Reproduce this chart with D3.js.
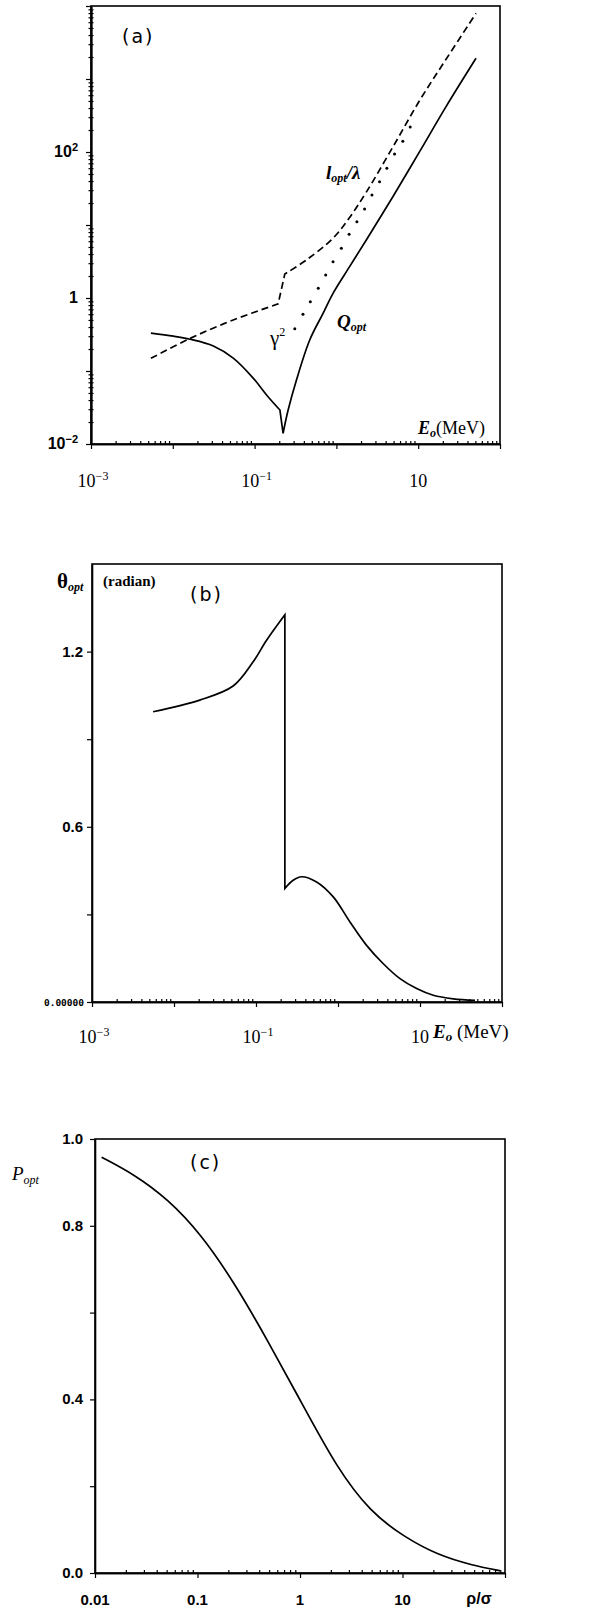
<!DOCTYPE html>
<html>
<head>
<meta charset="utf-8">
<script src="https://cdn.jsdelivr.net/npm/d3@7"></script>
<style>
  body { margin: 0; background: #fff; }
  svg { display: block; }
</style>
</head>
<body>
<div id="chart"></div>
<script>
// ---- panel (a): optimal quantities vs electron energy E_o (MeV)
var qEnergy = [0.0054, 0.0102, 0.0163, 0.0313, 0.0548, 0.096, 0.140, 0.204, 0.223, 0.257, 0.325, 0.472, 0.687, 0.91, 1.45, 2.32, 4.90, 10.4, 21.9, 50.9];
var qOpt    = [0.33, 0.30, 0.272, 0.22, 0.150, 0.080, 0.047, 0.0292, 0.014, 0.0292, 0.0754, 0.266, 0.617, 1.16, 2.69, 6.24, 24.4, 101, 418, 1920];
var lEnergy = [0.0054, 0.0163, 0.0548, 0.194, 0.234, 0.43, 0.91, 1.45, 2.32, 4.90, 10.4, 21.9, 50.9];
var lOpt    = [0.149, 0.28, 0.50, 0.83, 2.13, 3.32, 6.6, 12.7, 28.2, 117, 507, 1862, 7940];
var gEnergy = [0.31, 0.39, 0.48, 0.60, 0.74, 0.91, 1.15, 1.43, 1.78, 2.21, 2.72, 3.37, 4.14, 5.14, 6.49, 7.98];
var gamma2  = [0.38, 0.60, 0.89, 1.36, 2.07, 3.14, 4.80, 7.46, 11.1, 16.6, 25.8, 39.2, 59.8, 94.0, 140, 220];

// ---- panel (b): optimal angle (radian)
var bEnergy = [0.00556, 0.0206, 0.0526, 0.0923, 0.134, 0.225, 0.225, 0.284, 0.359, 0.548, 0.875, 1.40, 2.23, 3.57, 5.70, 9.1, 14.5, 25.5, 46.9];
var bTheta  = [0.994, 1.034, 1.082, 1.165, 1.238, 1.326, 0.389, 0.417, 0.429, 0.411, 0.36, 0.274, 0.194, 0.131, 0.080, 0.046, 0.023, 0.011, 0.006];

// ---- panel (c): P_opt vs rho/sigma
var cRatio = [0.0116, 0.0239, 0.0512, 0.109, 0.233, 0.499, 1.07, 2.28, 4.86, 10.4, 22.2, 47.4, 90.4];
var cPopt  = [0.958, 0.919, 0.862, 0.780, 0.666, 0.530, 0.386, 0.243, 0.140, 0.083, 0.041, 0.018, 0.005];

// tick labels
var aXTicks = [1e-3, 1e-1, 10];
var aXExp   = ["−3", "−1", null];
var aYTicks = [1e-2, 1, 1e2];
var aYExp   = ["−2", null, "2"];
var bYTicks = [0.6, 1.2];
var cXTicks = [0.01, 0.1, 1, 10];
var cYTicks = [0, 0.4, 0.8, 1.0];

var SERIF = "'Liberation Serif', 'DejaVu Serif', serif";
var SANS = "'Liberation Sans', Arial, sans-serif";

var svg = d3.select("#chart").append("svg")
    .attr("width", 598)
    .attr("height", 1612);

function decades(lo, hi) {
    var out = [];
    for (var d = lo; d <= hi; d++) out.push(Math.pow(10, d));
    return out;
}
function minors(lo, hi) {
    var out = [];
    for (var d = lo; d < hi; d++)
        for (var k = 2; k < 10; k++) out.push(k * Math.pow(10, d));
    return out;
}

function frame(x, y) {
    var xr = x.range(), yr = y.range();
    svg.append("rect")
        .attr("x", xr[0]).attr("y", yr[1])
        .attr("width", xr[1] - xr[0]).attr("height", yr[0] - yr[1])
        .attr("fill", "none").attr("stroke", "#000").attr("stroke-width", 1.6);
}

function axis(gen, tx, ty) {
    var g = svg.append("g")
        .attr("transform", "translate(" + tx + "," + ty + ")")
        .call(gen);
    g.selectAll("path").attr("stroke", "#000").attr("stroke-width", 1.6);
    g.selectAll("line").attr("stroke", "#000").attr("stroke-width", 1.2);
    g.selectAll("text").remove();
    return g;
}

// text made of pieces (for sub/superscripts)
function rich(x, y, parts, anchor) {
    var t = svg.append("text")
        .attr("x", x).attr("y", y)
        .attr("text-anchor", anchor || "start")
        .attr("fill", "#000");
    parts.forEach(function (p) {
        var s = t.append("tspan").text(p.t)
            .attr("font-family", p.f || SERIF)
            .attr("font-size", p.s)
            .attr("font-weight", p.w || "normal")
            .attr("font-style", p.i ? "italic" : "normal");
        if (p.b) s.attr("baseline-shift", p.b);
        if (p.ls) s.attr("letter-spacing", p.ls);
    });
    return t;
}

// one continuous path from several smooth pieces joined by straight segments
function piecewise(line, pts, cuts) {
    var pieces = [], start = 0;
    cuts.forEach(function (c) { pieces.push(pts.slice(start, c[0] + 1)); start = c[1]; });
    pieces.push(pts.slice(start));
    return pieces.map(function (p, i) {
        var d = line(p);
        return i ? d.replace(/^M/, "L") : d;
    }).join("");
}

var smooth = d3.curveCatmullRom.alpha(0.5);

// ================= panel (a) =================
var ax = d3.scaleLog().domain([1e-3, 1e2]).range([91, 500]);
var ay = d3.scaleLog().domain([1e-2, 1e4]).range([444, 6]);
frame(ax, ay);

axis(d3.axisBottom(ax).tickValues(decades(-3, 2)).tickSize(5).tickSizeOuter(0).tickFormat(""), 0, ay.range()[0]);
axis(d3.axisBottom(ax).tickValues(minors(-3, 2)).tickSize(-3).tickSizeOuter(0).tickFormat(""), 0, ay.range()[0]);
axis(d3.axisLeft(ay).tickValues(decades(-2, 4)).tickSize(5).tickSizeOuter(0).tickFormat(""), ax.range()[0], 0);
axis(d3.axisLeft(ay).tickValues(minors(-2, 4)).tickSize(2.5).tickSizeOuter(0).tickFormat(""), ax.range()[0], 0);
axis(d3.axisLeft(ay).tickValues(minors(-2, 4)).tickSize(-2.5).tickSizeOuter(0).tickFormat(""), ax.range()[0], 0);

aXTicks.forEach(function (v, i) {
    var parts = [{ t: "10", s: 18 }];
    if (aXExp[i]) parts.push({ t: aXExp[i], s: 12, b: 7 });
    rich(ax(v) + (aXExp[i] ? 2 : 0), 487, parts, "middle");
});
aYTicks.forEach(function (v, i) {
    var parts = [{ t: aYExp[i] === null ? "1" : "10", s: 16, w: "bold", f: SANS }];
    if (aYExp[i]) parts.push({ t: aYExp[i], s: 11, w: "bold", f: SANS, b: 6 });
    rich(78, ay(v) + 5, parts, "end");
});

var aQ = qEnergy.map(function (e, i) { return [e, qOpt[i]]; });
var aL = lEnergy.map(function (e, i) { return [e, lOpt[i]]; });
var aG = gEnergy.map(function (e, i) { return [e, gamma2[i]]; });
var aLine = d3.line().x(function (d) { return ax(d[0]); }).y(function (d) { return ay(d[1]); }).curve(smooth);

// Q_opt: smooth left branch, straight drop into the notch, smooth right branch
svg.append("path")
    .attr("d", piecewise(aLine, aQ, [[7, 8]]))
    .attr("fill", "none").attr("stroke", "#000").attr("stroke-width", 1.7);
svg.append("path")
    .attr("d", piecewise(aLine, aL, [[3, 4]]))
    .attr("fill", "none").attr("stroke", "#000").attr("stroke-width", 1.7)
    .attr("stroke-dasharray", "7,4");
svg.selectAll(".gdot").data(aG).enter().append("circle")
    .attr("class", "gdot")
    .attr("cx", function (d) { return ax(d[0]); })
    .attr("cy", function (d) { return ay(d[1]); })
    .attr("r", 1.5).attr("fill", "#000");

rich(122, 43, [{ t: "(a)", s: 19, f: "'DejaVu Sans', sans-serif", ls: 2 }]);
rich(326, 179, [{ t: "l", s: 19, w: "bold", i: 1 }, { t: "opt", s: 12, w: "bold", i: 1, b: -3 }, { t: "/λ", s: 19, w: "bold", i: 1 }]);
rich(270, 345, [{ t: "γ", s: 21 }, { t: "2", s: 12, b: 9 }]);
rich(337, 328, [{ t: "Q", s: 19, w: "bold", i: 1 }, { t: "opt", s: 12, w: "bold", i: 1, b: -3 }]);
rich(418, 434, [{ t: "E", s: 18, w: "bold", i: 1 }, { t: "o", s: 12, w: "bold", i: 1, b: -3 }, { t: "(MeV)", s: 18 }]);

// ================= panel (b) =================
var bx = d3.scaleLog().domain([1e-3, 1e2]).range([92, 502]);
var by = d3.scaleLinear().domain([0, 1.5]).range([1002, 564]);
frame(bx, by);

axis(d3.axisBottom(bx).tickValues(decades(-3, 2)).tickSize(5).tickSizeOuter(0).tickFormat(""), 0, by.range()[0]);
axis(d3.axisBottom(bx).tickValues(minors(-3, 2)).tickSize(-3).tickSizeOuter(0).tickFormat(""), 0, by.range()[0]);
axis(d3.axisLeft(by).tickValues([0, 0.3, 0.6, 0.9, 1.2]).tickSize(5).tickSizeOuter(0).tickFormat(""), bx.range()[0], 0);

aXTicks.forEach(function (v, i) {
    var parts = [{ t: "10", s: 18 }];
    if (aXExp[i]) parts.push({ t: aXExp[i], s: 12, b: 7 });
    rich(bx(v) + (aXExp[i] ? 2 : 0), 1043, parts, "middle");
});
bYTicks.forEach(function (v) {
    rich(83, by(v) + 5, [{ t: d3.format(".1f")(v), s: 15, w: "bold", f: SANS }], "end");
});
rich(84, by(0) + 3.5, [{ t: "0.00000", s: 9.5, w: "bold", f: "'DejaVu Sans Mono', monospace" }], "end");

var bData = bEnergy.map(function (e, i) { return [e, bTheta[i]]; });
var bLine = d3.line().x(function (d) { return bx(d[0]); }).y(function (d) { return by(d[1]); }).curve(smooth);
svg.append("path")
    .attr("d", piecewise(bLine, bData, [[5, 6]]))
    .attr("fill", "none").attr("stroke", "#000").attr("stroke-width", 1.7);

rich(57, 588, [{ t: "θ", s: 21, w: "bold" }, { t: "opt", s: 12, w: "bold", i: 1, b: -3 }]);
rich(103, 586, [{ t: "(radian)", s: 15, w: "bold" }]);
rich(190, 601, [{ t: "(b)", s: 19, f: "'DejaVu Sans', sans-serif", ls: 2 }]);
rich(433, 1038, [{ t: "E", s: 19, w: "bold", i: 1 }, { t: "o", s: 13, w: "bold", i: 1, b: -3 }, { t: " (MeV)", s: 19 }]);

// ================= panel (c) =================
var cx = d3.scaleLog().domain([0.01, 100]).range([95, 505]);
var cy = d3.scaleLinear().domain([0, 1]).range([1573, 1139]);
frame(cx, cy);

axis(d3.axisBottom(cx).tickValues(decades(-2, 2)).tickSize(5).tickSizeOuter(0).tickFormat(""), 0, cy.range()[0]);
axis(d3.axisBottom(cx).tickValues(minors(-2, 2)).tickSize(-3).tickSizeOuter(0).tickFormat(""), 0, cy.range()[0]);
axis(d3.axisLeft(cy).tickValues([0, 0.2, 0.4, 0.6, 0.8, 1.0]).tickSize(5).tickSizeOuter(0).tickFormat(""), cx.range()[0], 0);

cXTicks.forEach(function (v) {
    rich(cx(v), 1605, [{ t: String(v), s: 15, w: "bold", f: SANS }], "middle");
});
cYTicks.forEach(function (v) {
    rich(83, cy(v) + 5, [{ t: d3.format(".1f")(v), s: 15, w: "bold", f: SANS }], "end");
});

var cData = cRatio.map(function (r, i) { return [r, cPopt[i]]; });
svg.append("path").datum(cData)
    .attr("d", d3.line().x(function (d) { return cx(d[0]); }).y(function (d) { return cy(d[1]); }).curve(d3.curveBasis))
    .attr("fill", "none").attr("stroke", "#000").attr("stroke-width", 1.7);

rich(12, 1180, [{ t: "P", s: 19, i: 1 }, { t: "opt", s: 12, i: 1, b: -4 }]);
rich(190, 1169, [{ t: "(c)", s: 19, f: "'DejaVu Sans', sans-serif", ls: 2 }]);
rich(479, 1604, [{ t: "ρ/σ", s: 16, w: "bold", f: SANS }], "middle");
</script>
</body>
</html>
